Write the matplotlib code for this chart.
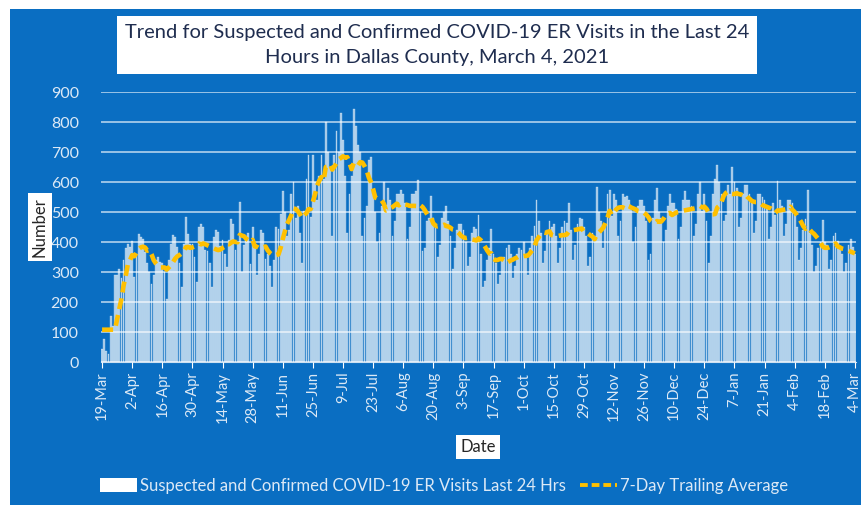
import numpy as np
import pandas as pd
import matplotlib
matplotlib.use("Agg")
import matplotlib.pyplot as plt
from matplotlib.patches import Rectangle
from matplotlib.lines import Line2D

# Daily ER visits, 19-Mar-2020 to 4-Mar-2021, one row per week (Thu..Wed)
weeks = [
    [45, 78, 38, 28, 155, 120, 290],
    [290, 310, 280, 340, 380, 395, 385],
    [405, 283, 361, 428, 417, 411, 367],
    [330, 300, 261, 290, 340, 350, 335],
    [330, 300, 211, 339, 394, 422, 417],
    [383, 330, 250, 394, 483, 428, 395],
    [394, 350, 267, 450, 461, 450, 372],
    [370, 330, 250, 417, 439, 433, 386],
    [406, 360, 317, 406, 478, 461, 372],
    [400, 533, 300, 390, 420, 430, 327],
    [450, 380, 290, 360, 440, 430, 345],
    [360, 320, 250, 340, 450, 445, 495],
    [570, 500, 420, 440, 560, 600, 480],
    [520, 430, 330, 505, 610, 690, 485],
    [690, 600, 540, 620, 690, 610, 800],
    [700, 650, 420, 690, 770, 700, 830],
    [740, 620, 430, 560, 620, 843, 787],
    [724, 700, 420, 480, 520, 674, 682],
    [560, 500, 400, 430, 520, 600, 525],
    [580, 540, 420, 470, 560, 560, 573],
    [560, 530, 410, 450, 560, 560, 570],
    [607, 500, 370, 380, 470, 480, 553],
    [480, 450, 350, 390, 480, 500, 521],
    [470, 420, 310, 380, 440, 460, 460],
    [440, 400, 320, 350, 430, 450, 445],
    [490, 360, 250, 270, 340, 380, 444],
    [360, 330, 260, 290, 340, 350, 380],
    [390, 360, 280, 320, 360, 380, 374],
    [400, 360, 290, 380, 420, 452, 540],
    [470, 430, 330, 370, 440, 470, 451],
    [460, 420, 330, 380, 450, 470, 465],
    [529, 440, 340, 390, 460, 480, 476],
    [450, 420, 320, 350, 430, 420, 585],
    [500, 470, 380, 460, 560, 573, 487],
    [560, 540, 420, 470, 560, 550, 554],
    [540, 510, 400, 450, 520, 540, 540],
    [520, 470, 340, 360, 480, 540, 580],
    [500, 480, 400, 440, 520, 560, 530],
    [530, 510, 410, 450, 540, 570, 539],
    [540, 520, 420, 460, 560, 600, 505],
    [560, 470, 330, 420, 560, 609, 656],
    [600, 560, 470, 490, 590, 560, 650],
    [600, 580, 450, 480, 560, 590, 590],
    [560, 530, 430, 470, 560, 560, 551],
    [540, 510, 410, 450, 530, 490, 605],
    [540, 520, 420, 460, 540, 540, 529],
    [490, 450, 340, 380, 440, 477, 573],
    [430, 390, 300, 320, 380, 400, 475],
    [400, 390, 310, 340, 420, 430, 405],
    [380, 360, 300, 330, 390, 410, 385],
    [360],
]
start_date = "2020-03-19"
title = "Trend for Suspected and Confirmed COVID-19 ER Visits in the Last 24\nHours in Dallas County, March 4, 2021"
bar_label = "Suspected and Confirmed COVID-19 ER Visits Last 24 Hrs"
line_label = "7-Day Trailing Average"

visits = pd.Series([v for w in weeks for v in w])
dates = pd.date_range(start_date, periods=len(visits), freq="D")
avg = visits.rolling(7).mean().bfill()

bg = "#0A6EC2"
light = "#DCE9F6"
plt.rcParams["font.family"] = ["Lato", "DejaVu Sans"]

fig = plt.figure(figsize=(8.61, 5.05), dpi=100)
fig.patches.append(Rectangle((10 / 861, 0), 1, 1 - 9 / 505, transform=fig.transFigure,
                             facecolor=bg, edgecolor="none", zorder=-1))

ax = fig.add_axes([101 / 861, 1 - 362 / 505, 755 / 861, 270 / 505])
ax.set_facecolor("none")
x = np.arange(len(visits))
ax.bar(x, visits, width=0.85, color="white", alpha=0.6, edgecolor="white", linewidth=0.3, zorder=2)
ax.plot(x, avg, color="#FFC000", lw=3.3, ls=(0, (2.4, 1.3)), zorder=3)

ax.set_ylim(0, 900)
ax.set_xlim(-0.5, len(visits) - 0.5)
ax.set_yticks(range(0, 901, 100))
ax.grid(axis="y", color="white", alpha=0.75, lw=1.1, zorder=1)
ax.set_axisbelow(True)

tick_pos = x[::14]
ax.set_xticks(tick_pos)
ax.set_xticklabels([f"{d.day}-{d.strftime('%b')}" for d in dates[::14]], rotation=90)
ax.tick_params(axis="x", colors=light, labelsize=10.5, length=4, color="white", pad=3)
ax.tick_params(axis="y", colors=light, labelsize=11.5, length=0, pad=16)
for s in ["top", "right", "left"]:
    ax.spines[s].set_visible(False)
ax.spines["bottom"].set_color("white")
ax.spines["bottom"].set_alpha(0.8)

fig.text(437 / 861, 1 - 45 / 505, title, ha="center", va="center", fontsize=14.5,
         color="#1F2D4F", linespacing=1.6,
         bbox=dict(boxstyle="square,pad=0.4", facecolor="white", edgecolor="none"))
fig.text(40 / 861, 1 - 227 / 505, "Number", rotation=90, ha="center", va="center",
         fontsize=12, color="#262626",
         bbox=dict(boxstyle="square,pad=0.25", facecolor="white", edgecolor="none"))
fig.text(478 / 861, 1 - 447 / 505, "Date", ha="center", va="center", fontsize=12,
         color="#262626", bbox=dict(boxstyle="square,pad=0.25", facecolor="white", edgecolor="none"))

handles = [Rectangle((0, 0), 1, 1, facecolor="white", edgecolor="none"),
           Line2D([0], [0], color="#FFC000", lw=2.8, ls=(0, (2, 1)))]
fig.legend(handles, [bar_label, line_label], loc="center", bbox_to_anchor=(444 / 861, 1 - 486 / 505),
           ncol=2, frameon=False, fontsize=12, labelcolor=light, handlelength=2.2,
           handleheight=0.9, handletextpad=0.15, columnspacing=0.9)

fig.savefig("out.png", dpi=100)
